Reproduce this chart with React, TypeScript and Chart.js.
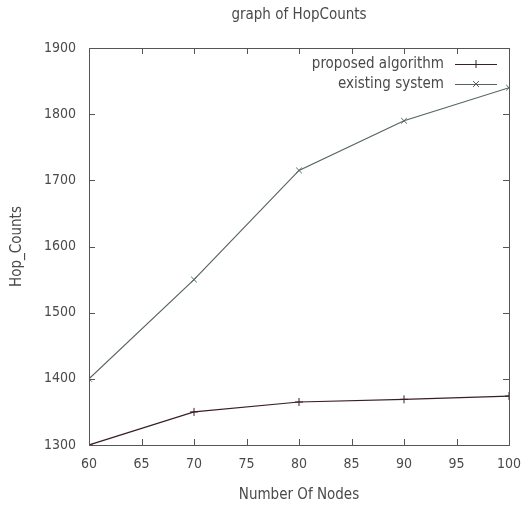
import React, { useEffect, useRef } from "react";
import { Chart, registerables } from "chart.js";

Chart.register(...registerables);

const nodes = [60, 70, 80, 90, 100];
const proposed = [1300, 1350, 1365, 1369, 1374];
const existing = [1400, 1550, 1715, 1790, 1840];
const seriesNames = ["proposed algorithm", "existing system"];
const chartTitle = "graph of HopCounts";
const xTitle = "Number Of Nodes";
const yTitle = "Hop_Counts";

const FONT = "'DejaVu Sans Condensed', 'DejaVu Sans', sans-serif";
const TXT = "#4a4a4a";
const colors = ["#3a1e26", "#55665a"];
const pstyles = ["cross", "crossRot"];

const framePlugin = {
  id: "frame",
  afterDraw(chart: any) {
    const { ctx, chartArea: a, scales } = chart;
    ctx.save();
    ctx.strokeStyle = "#555";
    ctx.lineWidth = 1;
    ctx.strokeRect(a.left + 0.5, a.top + 0.5, a.right - a.left, a.bottom - a.top);
    const tl = 6;
    ctx.beginPath();
    scales.x.ticks.forEach((t: any) => {
      const px = Math.round(scales.x.getPixelForValue(t.value)) + 0.5;
      ctx.moveTo(px, a.bottom);
      ctx.lineTo(px, a.bottom - tl);
      ctx.moveTo(px, a.top);
      ctx.lineTo(px, a.top + tl);
    });
    scales.y.ticks.forEach((t: any) => {
      const py = Math.round(scales.y.getPixelForValue(t.value)) + 0.5;
      ctx.moveTo(a.left, py);
      ctx.lineTo(a.left + tl, py);
      ctx.moveTo(a.right, py);
      ctx.lineTo(a.right - tl, py);
    });
    ctx.stroke();

    // title
    ctx.fillStyle = TXT;
    ctx.font = `15px ${FONT}`;
    ctx.textAlign = "center";
    ctx.textBaseline = "middle";
    ctx.fillText(chartTitle, (a.left + a.right) / 2, 15);

    // legend
    ctx.font = `15px ${FONT}`;
    ctx.textAlign = "right";
    seriesNames.forEach((name, i) => {
      const y = a.top + 16 + i * 20;
      ctx.fillStyle = TXT;
      ctx.fillText(name, a.right - 65, y);
      ctx.strokeStyle = colors[i];
      ctx.beginPath();
      ctx.moveTo(a.right - 54, y + 0.5);
      ctx.lineTo(a.right - 12, y + 0.5);
      ctx.stroke();
      ctx.beginPath();
      const cx = a.right - 33;
      if (i === 0) {
        ctx.moveTo(cx, y - 4);
        ctx.lineTo(cx, y + 4);
      } else {
        ctx.moveTo(cx - 3, y - 3);
        ctx.lineTo(cx + 3, y + 3);
        ctx.moveTo(cx + 3, y - 3);
        ctx.lineTo(cx - 3, y + 3);
      }
      ctx.stroke();
    });
    ctx.restore();
  },
};

export default function App() {
  const ref = useRef<HTMLCanvasElement>(null);
  useEffect(() => {
    const mk = (vals: number[]) => nodes.map((x, i) => ({ x, y: vals[i] }));
    const chart = new Chart(ref.current!, {
      type: "line",
      data: {
        datasets: [proposed, existing].map((vals, i) => ({
          label: seriesNames[i],
          data: mk(vals),
          borderColor: colors[i],
          backgroundColor: colors[i],
          borderWidth: 1.2,
          pointStyle: pstyles[i] as any,
          pointRadius: 4,
          pointBorderWidth: 1,
          tension: 0,
        })),
      },
      options: {
        animation: false,
        responsive: false,
        layout: { padding: { left: 0, right: 20, top: 48, bottom: 0 } },
        plugins: { legend: { display: false }, tooltip: { enabled: false }, title: { display: false } },
        scales: {
          x: {
            type: "linear",
            min: 60,
            max: 100,
            grid: { display: false, drawTicks: false },
            border: { display: false },
            ticks: { stepSize: 5, color: TXT, font: { family: FONT, size: 14 }, padding: 11, callback: (v: any) => String(v) },
            title: { display: true, text: xTitle, color: TXT, font: { family: FONT, size: 15 }, padding: { top: 0, bottom: 2 } },
            afterFit: (s: any) => { s.height = 61; s.paddingRight = 0; s.paddingLeft = 0; },
          },
          y: {
            min: 1300,
            max: 1900,
            grid: { display: false, drawTicks: false },
            border: { display: false },
            ticks: { stepSize: 100, color: TXT, font: { family: FONT, size: 14 }, padding: 13, callback: (v: any) => String(v) },
            title: { display: true, text: yTitle, color: TXT, font: { family: FONT, size: 15 }, padding: { top: 8, bottom: 0 } },
            afterFit: (s: any) => { s.width = 89; s.paddingTop = 0; s.paddingBottom = 0; },
          },
        },
      },
      plugins: [framePlugin],
    });
    return () => chart.destroy();
  }, []);
  return (
    <div style={{ position: "absolute", left: 0, top: 0, width: 529, height: 506, background: "#fff" }}>
      <canvas ref={ref} width={529} height={506} />
    </div>
  );
}
